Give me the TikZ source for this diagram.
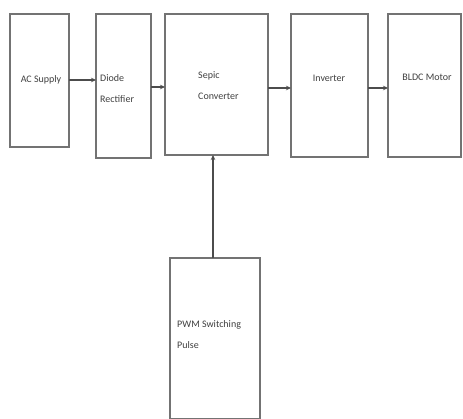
\documentclass[tikz,border=0pt]{standalone}
\usepackage{fontspec}
\setmainfont{Carlito}
\usetikzlibrary{arrows.meta}
\begin{document}
\begin{tikzpicture}[x=1pt,y=-1pt,
  blk/.style={draw=black!55,line width=1.3pt,fill=white},
  lbl/.style={font=\fontsize{10}{21}\selectfont,text=black!75,inner sep=0pt},
  conn/.style={draw=black!70,line width=1.1pt,-{Stealth[length=5pt,width=4.5pt]}}]
\useasboundingbox (0,0) rectangle (463,419);
\draw[blk] (10,14) rectangle (69,147);
\node[lbl] (ac) at (41,80) {AC Supply};
\coordinate (acE) at (69,80);
\draw[blk] (96,14) rectangle (151,158);
\node[lbl,align=left,anchor=west] (dr) at (100,89) {Diode\\Rectifier};
\coordinate (drW) at (96,80);
\coordinate (drE) at (151,87);
\draw[blk] (165,14) rectangle (268,155);
\node[lbl,align=left,anchor=west] (sc) at (198,86) {Sepic\\Converter};
\coordinate (scW) at (165,87);
\coordinate (scE) at (268,88);
\coordinate (scS) at (213,155);
\draw[blk] (291,14) rectangle (368,157);
\node[lbl] (inv) at (329,78) {Inverter};
\coordinate (invW) at (291,88);
\coordinate (invE) at (368,88);
\draw[blk] (388,14) rectangle (461,157);
\node[lbl] (bldc) at (427,77) {BLDC Motor};
\coordinate (bldcW) at (388,88);
\draw[blk] (170,258) rectangle (260,419);
\node[lbl,align=left,anchor=west] (pwm) at (177,335) {PWM Switching\\Pulse};
\coordinate (pwmN) at (213,258);
\draw[conn] (acE) -- (drW);
\draw[conn] (drE) -- (scW);
\draw[conn] (scE) -- (invW);
\draw[conn] (invE) -- (bldcW);
\draw[conn] (pwmN) -- (scS);
\end{tikzpicture}
\end{document}
